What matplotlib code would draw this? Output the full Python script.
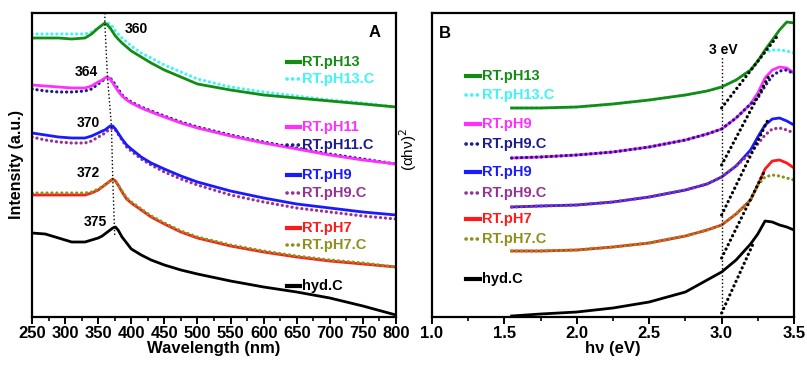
import matplotlib
matplotlib.use("Agg")
import matplotlib.pyplot as plt
from matplotlib.ticker import MultipleLocator

plt.rcParams["font.family"] = ["Liberation Sans", "DejaVu Sans"]

# ---- panel A: emission-like spectra (arbitrary units) ----
wl = [250, 270, 290, 310, 330, 340, 350, 356, 360, 364, 368, 372, 376, 380,
      386, 393, 400, 415, 430, 450, 475, 500, 550, 600, 650, 700, 750, 800]

a_ph13 = [279, 279, 279, 278, 279, 283, 289, 292, 294, 292, 289, 285, 281, 278,
          274, 270, 266, 260, 254, 247, 240, 233, 227, 222, 219, 216, 213, 210]
a_ph13c = [283, 283, 283, 283, 283, 285, 289, 291, 293, 294, 293, 290, 286, 283,
           279, 275, 271, 264, 259, 252, 245, 238, 230, 225, 221, 217, 214, 210]
a_ph11 = [232, 231, 230, 229, 229, 231, 235, 237, 239, 240, 238, 234, 230, 226,
          221, 217, 214, 209, 205, 200, 194, 189, 181, 174, 168, 162, 157, 153]
a_ph11c = [228, 226, 225, 225, 226, 228, 233, 236, 238, 240, 239, 236, 232, 228,
           222, 218, 215, 210, 206, 201, 195, 190, 182, 175, 169, 163, 158, 153]
a_ph9 = [184, 182, 180, 179, 179, 181, 184, 186, 187, 189, 191, 191, 188, 184,
         178, 172, 168, 160, 154, 148, 141, 135, 126, 119, 113, 109, 105, 102]
a_ph9c = [180, 177, 175, 174, 174, 176, 180, 182, 184, 186, 188, 189, 187, 183,
          177, 170, 166, 158, 152, 145, 138, 132, 122, 115, 109, 105, 101, 98]
a_ph7 = [122, 122, 122, 122, 122, 124, 127, 130, 132, 134, 136, 138, 136, 132,
         125, 118, 114, 107, 100, 93, 85, 79, 71, 65, 60, 56, 53, 50]
a_ph7c = [124, 124, 124, 124, 124, 125, 128, 130, 132, 134, 136, 137, 136, 132,
          126, 119, 115, 108, 101, 94, 86, 80, 72, 66, 61, 57, 54, 50]
a_hyd = [84, 83, 79, 75, 75, 77, 79, 81, 83, 85, 87, 89, 90, 87,
         80, 74, 68, 62, 57, 52, 47, 43, 36, 30, 25, 19, 11, 2]

peak_wl = [360, 360, 364, 370, 372, 375]
peak_y = [304, 294, 240, 191, 138, 80]
peak_labels = ["360", "364", "370", "372", "375"]
peak_label_pos = [(407, 288), (332, 245), (335, 194), (335, 144), (345, 95)]

# ---- panel B: Tauc plots ----
ev = [1.55, 1.75, 2.0, 2.25, 2.5, 2.75, 2.9, 3.0, 3.1, 3.2, 3.25, 3.3, 3.35, 3.4, 3.45, 3.5]

b_ph13 = [209, 209, 210, 213, 217, 222, 226, 230, 237, 247, 256, 267, 277, 287, 295, 294]
b_ph13c = [209, 209, 210, 213, 217, 222, 226, 230, 237, 247, 256, 265, 267, 267, 266, 264]
b_ph11 = [159, 160, 162, 165, 170, 177, 183, 188, 199, 213, 224, 239, 247, 250, 249, 244]
b_ph11c = [159, 160, 162, 165, 170, 177, 183, 188, 199, 213, 219, 231, 241, 246, 247, 243]
b_ph9 = [110, 111, 112, 115, 120, 127, 133, 140, 151, 167, 180, 192, 198, 199, 196, 192]
b_ph9c = [110, 111, 112, 115, 120, 127, 133, 140, 151, 164, 173, 182, 188, 189, 187, 184]
b_ph7 = [66, 66, 67, 70, 74, 81, 87, 92, 103, 117, 132, 148, 156, 157, 154, 149]
b_ph7c = [66, 66, 67, 70, 74, 81, 87, 92, 103, 117, 132, 140, 142, 141, 139, 137]
b_hyd = [1, 3, 5, 9, 15, 25, 37, 45, 57, 73, 83, 96, 95, 92, 90, 87]

# tangent (band-gap) lines: ((x0, y0), (x1, y1))
tangents = [((3.0, 209), (3.38, 280)),
            ((3.0, 152), (3.33, 242)),
            ((3.0, 102), (3.32, 197)),
            ((3.0, 59), (3.30, 147)),
            ((3.0, 4), (3.22, 74))]

green = "#148c14"
cyan = "#3ff5f5"
magenta = "#ff30ff"
navy = "#1c1c8c"
blue = "#1a1aff"
purple = "#963296"
red = "#ff1a1a"
olive = "#8f8f1c"

DOT = (0, (0.05, 1.5))

fig = plt.figure(figsize=(8.07, 3.65), dpi=100)
axA = fig.add_axes([0.0397, 0.1315, 0.451, 0.8329])
axB = fig.add_axes([0.5353, 0.1315, 0.4486, 0.8329])


def draw(ax, x, ys, c, ls):
    if ls == "-":
        ax.plot(x, ys, color=c, lw=2.0)
    else:
        ax.plot(x, ys, color=c, ls=ls, lw=2.3, dash_capstyle="round")


series_a = [
    (a_ph13c, cyan, DOT),
    (a_ph13, green, "-"),
    (a_ph11c, navy, DOT),
    (a_ph11, magenta, "-"),
    (a_ph9c, purple, DOT),
    (a_ph9, blue, "-"),
    (a_ph7, red, "-"),
    (a_ph7c, olive, DOT),
    (a_hyd, "black", "-"),
]
for ys, c, ls in series_a:
    draw(axA, wl, ys, c, ls)

axA.plot(peak_wl, peak_y, color="black", ls=":", lw=1.0)
for lab, (x, y) in zip(peak_labels, peak_label_pos):
    axA.text(x, y, lab, ha="center", va="center", fontsize=10, fontweight="bold")

series_b = [
    (b_ph13c, cyan, DOT),
    (b_ph13, green, "-"),
    (b_ph11, magenta, "-"),
    (b_ph11c, navy, DOT),
    (b_ph9, blue, "-"),
    (b_ph9c, purple, DOT),
    (b_ph7, red, "-"),
    (b_ph7c, olive, DOT),
    (b_hyd, "black", "-"),
]
for ys, c, ls in series_b:
    draw(axB, ev, ys, c, ls)

for (x0, y0), (x1, y1) in tangents:
    draw(axB, [x0, x1], [y0, y1], "black", DOT)
axB.plot([3.0, 3.0], [4, 260], color="black", ls=":", lw=1.0)
axB.text(3.01, 267, "3 eV", ha="center", va="center", fontsize=10, fontweight="bold")


def legend_block(ax, entries, x0, x1, xt, ys):
    for (c, ls, lab), y in zip(entries, ys):
        if ls == "-":
            ax.plot([x0, x1], [y, y], transform=ax.transAxes, color=c,
                    lw=3.0, clip_on=False)
        else:
            ax.plot([x0, x1], [y, y], transform=ax.transAxes, color=c, ls=ls,
                    lw=2.6, dash_capstyle="round", clip_on=False)
        ax.text(xt, y, lab, transform=ax.transAxes, color=c, ha="left",
                va="center", fontsize=10.5, fontweight="bold")


legA = [(green, "-", "RT.pH13"), (cyan, DOT, "RT.pH13.C"),
        (magenta, "-", "RT.pH11"), (navy, DOT, "RT.pH11.C"),
        (blue, "-", "RT.pH9"), (purple, DOT, "RT.pH9.C"),
        (red, "-", "RT.pH7"), (olive, DOT, "RT.pH7.C"),
        ("black", "-", "hyd.C")]
legend_block(axA, legA, 0.70, 0.736, 0.742,
             [0.839, 0.783, 0.625, 0.566, 0.467, 0.408, 0.293, 0.237, 0.102])

legB = [(green, "-", "RT.pH13"), (cyan, DOT, "RT.pH13.C"),
        (magenta, "-", "RT.pH9"), (navy, DOT, "RT.pH9.C"),
        (blue, "-", "RT.pH9"), (purple, DOT, "RT.pH9.C"),
        (red, "-", "RT.pH7"), (olive, DOT, "RT.pH7.C"),
        ("black", "-", "hyd.C")]
legend_block(axB, legB, 0.094, 0.133, 0.138,
             [0.793, 0.730, 0.635, 0.569, 0.477, 0.408, 0.322, 0.257, 0.125])

axA.text(0.942, 0.937, "A", transform=axA.transAxes, ha="center", va="center",
         fontsize=12, fontweight="bold")
axB.text(0.036, 0.934, "B", transform=axB.transAxes, ha="center", va="center",
         fontsize=12, fontweight="bold")

axA.set_xlim(250, 800)
axA.set_ylim(0, 304)
axA.xaxis.set_major_locator(MultipleLocator(50))
axA.xaxis.set_minor_locator(MultipleLocator(25))
axA.set_xlabel("Wavelength (nm)", fontsize=12, fontweight="bold", labelpad=0)
axA.set_ylabel("Intensity (a.u.)", fontsize=11.5, fontweight="bold", labelpad=6)

axB.set_xlim(1.0, 3.5)
axB.set_ylim(0, 304)
axB.xaxis.set_major_locator(MultipleLocator(0.5))
axB.xaxis.set_minor_locator(MultipleLocator(0.25))
axB.xaxis.set_major_formatter(plt.FormatStrFormatter("%.1f"))
axB.set_xlabel("hν (eV)", fontsize=12, fontweight="bold", labelpad=0)
axB.set_ylabel("(αhν)$^2$", fontsize=11, labelpad=6)
axB.yaxis.set_label_coords(-0.035, 0.55)

for ax in (axA, axB):
    ax.set_yticks([])
    for s in ax.spines.values():
        s.set_linewidth(1.6)
    ax.tick_params(axis="x", which="major", direction="out", length=5, width=1.4,
                   labelsize=12, pad=1.5)
    ax.tick_params(axis="x", which="minor", direction="out", length=3, width=1.2)
    for t in ax.get_xticklabels():
        t.set_fontweight("bold")

fig.savefig("out.png", dpi=100)
